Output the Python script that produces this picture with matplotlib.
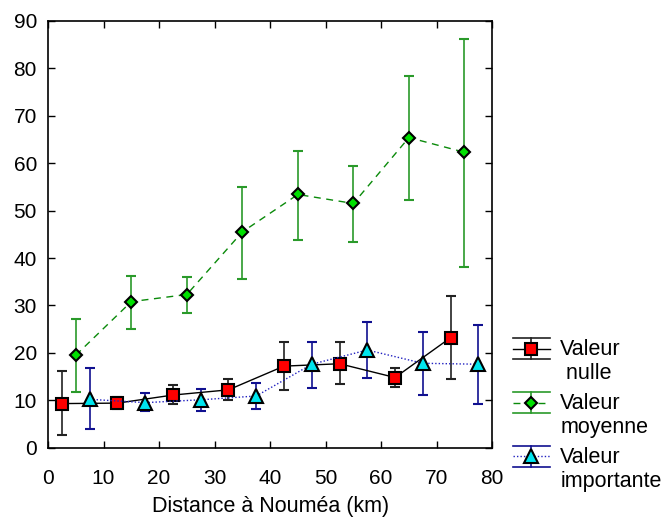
import matplotlib
matplotlib.use("Agg")
import matplotlib.pyplot as plt
from matplotlib.legend_handler import HandlerBase
from matplotlib.lines import Line2D

plt.rcParams['font.family'] = ['Liberation Sans', 'DejaVu Sans']
plt.rcParams['font.size'] = 15

# Data
x_nulle = [2.5, 12.5, 22.5, 32.5, 42.5, 52.5, 62.5, 72.5]
y_nulle = [9.3, 9.4, 11.1, 12.2, 17.2, 17.7, 14.8, 23.2]
lo_nulle = [2.6, 8.1, 9.2, 10.0, 12.2, 13.4, 12.8, 14.5]
hi_nulle = [16.2, 10.7, 13.2, 14.4, 22.3, 22.2, 16.9, 32.0]

x_moy = [5, 15, 25, 35, 45, 55, 65, 75]
y_moy = [19.5, 30.8, 32.3, 45.5, 53.4, 51.5, 65.4, 62.3]
lo_moy = [11.7, 25.1, 28.3, 35.6, 43.9, 43.4, 52.2, 38.0]
hi_moy = [27.1, 36.2, 36.0, 55.0, 62.6, 59.5, 78.4, 86.2]

x_imp = [7.5, 17.5, 27.5, 37.5, 47.5, 57.5, 67.5, 77.5]
y_imp = [10.2, 9.5, 10.1, 10.9, 17.6, 20.6, 17.8, 17.6]
lo_imp = [3.9, 7.7, 7.7, 8.2, 12.5, 14.7, 11.1, 9.2]
hi_imp = [16.8, 11.5, 12.3, 13.7, 22.2, 26.6, 24.5, 25.9]

labels = ["Valeur\n nulle", "Valeur\nmoyenne", "Valeur\nimportante"]
xticks = [0, 10, 20, 30, 40, 50, 60, 70, 80]
yticks = [0, 10, 20, 30, 40, 50, 60, 70, 80, 90]

def err(y, lo, hi):
    return [[a - b for a, b in zip(y, lo)], [c - a for a, c in zip(y, hi)]]

fig = plt.figure(figsize=(6.64, 5.23), dpi=100)
ax = fig.add_axes([0.0723, 0.144, 0.669, 0.816])

series = [
    dict(x=x_nulle, y=y_nulle, lo=lo_nulle, hi=hi_nulle, ls='-', lc='black', ec='#222222',
         marker='s', mfc='#ff0000', ms=8),
    dict(x=x_moy, y=y_moy, lo=lo_moy, hi=hi_moy, ls=(0, (5, 4)), lc='#0a8a0a', ec='#2a9a2a',
         marker='D', mfc='#00e000', ms=6.5),
    dict(x=x_imp, y=y_imp, lo=lo_imp, hi=hi_imp, ls=(0, (1, 1.5)), lc='#2020c0', ec='#101090',
         marker='^', mfc='#00e5ee', ms=10),
]

containers = []
for s in series:
    c = ax.errorbar(s['x'], s['y'], yerr=err(s['y'], s['lo'], s['hi']),
                    color=s['lc'], ls=s['ls'], lw=1.0, ecolor=s['ec'], elinewidth=1.2,
                    capsize=3.6, capthick=1.2, marker=s['marker'], mfc=s['mfc'],
                    mec='black', mew=1.5, ms=s['ms'], zorder=3)
    containers.append(c)


class GnuHandler(HandlerBase):
    def __init__(self, s):
        super().__init__()
        self.s = s

    def create_artists(self, legend, orig_handle, xdescent, ydescent, width, height,
                       fontsize, trans):
        s = self.s
        x0, x1 = -xdescent, -xdescent + width
        yc = -ydescent + height * 0.75 + 7
        h = 7.5
        xm = (x0 + x1) / 2
        arts = [
            Line2D([x0, x1], [yc + h, yc + h], color=s['ec'], lw=1.2),
            Line2D([x0, x1], [yc - h, yc - h], color=s['ec'], lw=1.2),
            Line2D([xm, xm], [yc - h, yc + h], color=s['ec'], lw=1.2),
            Line2D([x0, x1], [yc, yc], color=s['lc'], ls=s['ls'], lw=1.0),
            Line2D([xm], [yc], marker=s['marker'], mfc=s['mfc'], mec='black', mew=1.5,
                   ms=s['ms'], ls='none'),
        ]
        for a in arts:
            a.set_transform(trans)
        return arts

hmap = {c: GnuHandler(s) for c, s in zip(containers, series)}
leg = fig.legend(containers, labels, handler_map=hmap, loc='upper left',
                 bbox_to_anchor=(0.7595, 0.368), frameon=False, handlelength=1.7,
                 handletextpad=0.5, labelspacing=0.4, borderaxespad=0, fontsize=15.5)

ax.set_xlim(0, 80)
ax.set_ylim(0, 90)
ax.set_xticks(xticks)
ax.set_yticks(yticks)
ax.tick_params(direction='in', top=True, right=True, length=5, width=1, labelsize=15)
ax.tick_params(axis='y', pad=8)
ax.tick_params(axis='x', pad=15)
for sp in ax.spines.values():
    sp.set_linewidth(1.2)
ax.set_xlabel("Distance à Nouméa (km)", fontsize=15.5, labelpad=6)

fig.savefig("out.png", dpi=100)
